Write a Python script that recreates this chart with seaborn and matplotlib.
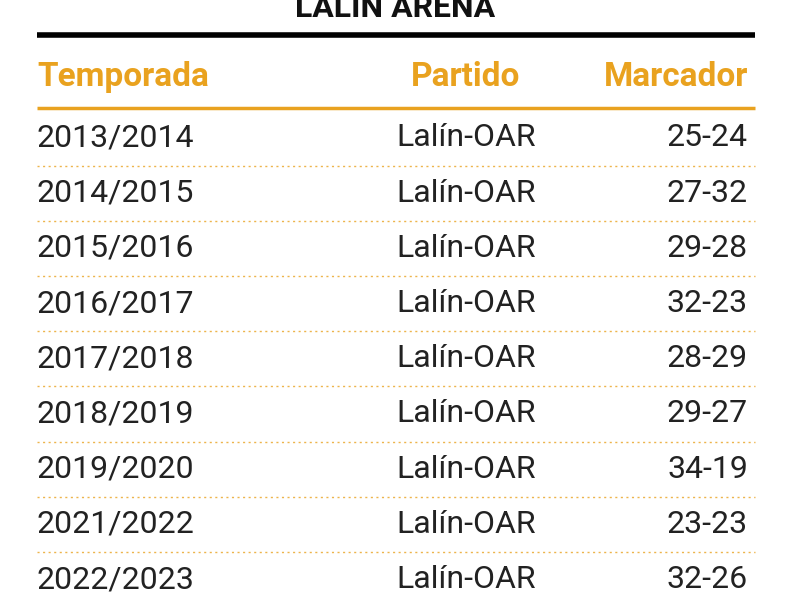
import matplotlib
matplotlib.use("Agg")
import matplotlib.pyplot as plt
import seaborn as sns

title = "LALÍN ARENA"
headers = ["Temporada", "Partido", "Marcador"]
temporadas = ["2013/2014", "2014/2015", "2015/2016", "2016/2017", "2017/2018",
              "2018/2019", "2019/2020", "2021/2022", "2022/2023"]
partidos = ["Lalín-OAR"] * 9
marcadores = ["25-24", "27-32", "29-28", "32-23", "28-29", "29-27", "34-19", "23-23", "32-26"]

sns.set_theme(style="white")
orange = "#E9A21F"
fig = plt.figure(figsize=(8, 6), dpi=100)
ax = fig.add_axes([0, 0, 1, 1])
ax.set_xlim(0, 800)
ax.set_ylim(600, 0)
ax.axis("off")

ax.text(395, 8, title, ha="center", va="center", fontsize=23, fontweight="bold",
        family="Roboto", color="#111111")
ax.plot([37, 755], [35, 35], color="black", lw=4, solid_capstyle="butt")
hy = 77
ax.text(37, hy, headers[0], ha="left", va="center", fontsize=24, fontweight="bold", family="Roboto", color=orange)
ax.text(466, hy, headers[1], ha="center", va="center", fontsize=24, fontweight="bold", family="Roboto", color=orange)
ax.text(748, hy, headers[2], ha="right", va="center", fontsize=24, fontweight="bold", family="Roboto", color=orange)
ax.plot([37, 755], [108, 108], color=orange, lw=2.5, solid_capstyle="butt")

step = 55.2
for i, (t, p, m) in enumerate(zip(temporadas, partidos, marcadores)):
    y = 138 + i * step
    ax.text(37, y, t, ha="left", va="center", fontsize=23, family="Roboto", color="#222222")
    ax.text(466, y, p, ha="center", va="center", fontsize=23, family="Roboto", color="#222222")
    ax.text(748, y, m, ha="right", va="center", fontsize=23, family="Roboto", color="#222222")
    if i < len(temporadas) - 1:
        ax.plot([37, 755], [y + 27.5, y + 27.5], color=orange, lw=1, ls=(0, (1.5, 2.5)), alpha=0.8)

fig.savefig("out.png", dpi=100)
